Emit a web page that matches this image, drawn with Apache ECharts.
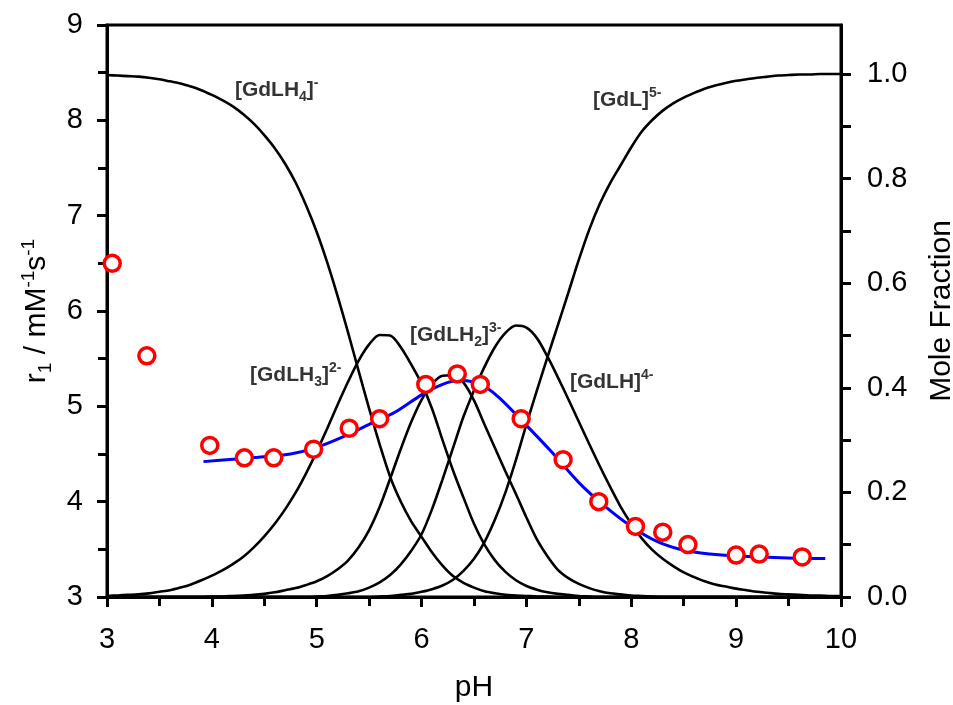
<!DOCTYPE html>
<html><head><meta charset="utf-8">
<script src="https://cdn.jsdelivr.net/npm/echarts@6/dist/echarts.min.js"></script>
<style>html,body{margin:0;padding:0;background:#fff}#c{width:953px;height:705px}</style>
</head><body><div id="c"></div>
<script>
const FONT = '"Liberation Sans", Arial, sans-serif';

// measured relaxivity points [pH, r1]
const r1Points = [[3.05,6.50],[3.38,5.53],[3.98,4.59],[4.31,4.46],[4.59,4.46],[4.97,4.55],[5.31,4.77],[5.60,4.87],[6.04,5.23],[6.34,5.34],[6.56,5.23],[6.95,4.87],[7.35,4.44],[7.69,4.00],[8.04,3.74],[8.30,3.68],[8.54,3.55],[9.00,3.44],[9.22,3.45],[9.63,3.42]];
// fitted relaxivity curve [pH, r1]
const r1Fit = [[3.92,4.42],[4.2,4.445],[4.5,4.47],[4.75,4.50],[5.0,4.57],[5.25,4.68],[5.5,4.81],[5.75,4.94],[6.0,5.12],[6.2,5.23],[6.35,5.27],[6.5,5.255],[6.6,5.21],[6.75,5.08],[7.0,4.80],[7.25,4.51],[7.5,4.20],[7.75,3.95],[8.0,3.74],[8.25,3.58],[8.5,3.49],[8.75,3.45],[9.0,3.43],[9.5,3.41],[9.85,3.405]];

// pH values at which the species curves were read (3.0 .. 10.0, step 0.1)
const pHGrid = [3.0,3.1,3.2,3.3,3.4,3.5,3.6,3.7,3.8,3.9,4.0,4.1,4.2,4.3,4.4,4.5,4.6,4.7,4.8,4.9,5.0,5.1,5.2,5.3,5.4,5.5,5.6,5.7,5.8,5.9,6.0,6.1,6.2,6.3,6.4,6.5,6.6,6.7,6.8,6.9,7.0,7.1,7.2,7.3,7.4,7.5,7.6,7.7,7.8,7.9,8.0,8.1,8.2,8.3,8.4,8.5,8.6,8.7,8.8,8.9,9.0,9.1,9.2,9.3,9.4,9.5,9.6,9.7,9.8,9.9,10.0];
// species mole fractions on pHGrid
const fracGdLH4 = [0.998,0.997,0.996,0.995,0.993,0.990,0.986,0.982,0.976,0.969,0.960,0.950,0.938,0.923,0.905,0.883,0.858,0.828,0.792,0.748,0.698,0.640,0.575,0.505,0.432,0.360,0.292,0.230,0.183,0.145,0.115,0.085,0.060,0.040,0.027,0.018,0.011,0.007,0.004,0.003,0.002,0.001,0.001,0,0,0,0,0,0,0,0,0,0,0,0,0,0,0,0,0,0,0,0,0,0,0,0,0,0,0,0];
const fracGdLH3 = [0.002,0.003,0.004,0.005,0.007,0.010,0.013,0.018,0.024,0.032,0.041,0.051,0.063,0.077,0.095,0.116,0.140,0.168,0.200,0.237,0.278,0.322,0.368,0.412,0.452,0.483,0.501,0.500,0.478,0.445,0.408,0.360,0.300,0.242,0.190,0.140,0.100,0.070,0.048,0.032,0.021,0.014,0.009,0.006,0.004,0.002,0.001,0,0,0,0,0,0,0,0,0,0,0,0,0,0,0,0,0,0,0,0,0,0,0,0];
const fracGdLH2 = [0,0,0,0,0,0,0,0,0,0,0.001,0.001,0.002,0.003,0.004,0.006,0.009,0.013,0.017,0.023,0.030,0.040,0.053,0.070,0.095,0.128,0.172,0.226,0.282,0.334,0.377,0.407,0.423,0.424,0.410,0.376,0.330,0.285,0.240,0.197,0.152,0.110,0.078,0.052,0.036,0.025,0.017,0.011,0.007,0.005,0.003,0.002,0.001,0,0,0,0,0,0,0,0,0,0,0,0,0,0,0,0,0,0];
const fracGdLH = [0,0,0,0,0,0,0,0,0,0,0,0,0,0,0,0,0,0,0,0,0.001,0.002,0.004,0.007,0.011,0.018,0.028,0.042,0.062,0.088,0.120,0.168,0.225,0.285,0.345,0.395,0.440,0.478,0.505,0.519,0.515,0.495,0.460,0.420,0.378,0.335,0.292,0.250,0.210,0.172,0.140,0.112,0.090,0.073,0.059,0.047,0.038,0.030,0.024,0.020,0.016,0.013,0.010,0.008,0.006,0.005,0.004,0.003,0.003,0.002,0.002];
const fracGdL = [0,0,0,0,0,0,0,0,0,0,0,0,0,0,0,0,0,0,0,0,0,0,0,0,0,0,0.001,0.002,0.004,0.006,0.010,0.015,0.022,0.033,0.050,0.073,0.105,0.148,0.200,0.262,0.330,0.395,0.458,0.520,0.582,0.645,0.703,0.752,0.792,0.826,0.860,0.890,0.912,0.930,0.944,0.955,0.964,0.972,0.978,0.983,0.987,0.990,0.993,0.995,0.997,0.998,0.999,0.999,1.0,1.0,1.0];

// species label texts and anchors [pH, fraction]
const speciesNames = ['{m|[GdLH}{sub|4}{m|]}{sup|-}','{m|[GdL]}{sup|5-}','{m|[GdLH}{sub|3}{m|]}{sup|2-}','{m|[GdLH}{sub|2}{m|]}{sup|3-}','{m|[GdLH]}{sup|4-}'];
const speciesAnchors = [[4.22,0.969],[7.635,0.950],[4.364,0.424],[5.89,0.501],[7.415,0.411]];

// axis ticks
const xMin = 3, xMax = 10;
const r1Min = 3, r1Max = 9;
const fracMax = 1.0937;
const fracLabelValues = [0,0.2,0.4,0.6,0.8,1.0];
const fracTickValues = [0,0.1,0.2,0.3,0.4,0.5,0.6,0.7,0.8,0.9,1.0];

const chart = echarts.init(document.getElementById('c'), null, {renderer:'canvas'});
const pairs = (arr) => pHGrid.map((x, i) => [x, arr[i]]);
const blackCurve = (arr) => ({type:'line', yAxisIndex:1, data:pairs(arr), showSymbol:false, smooth:0.3,
  lineStyle:{color:'#000', width:2.6}, silent:true, z:2});
const tickStyle = {color:'#000', width:3};
const labelRich = {
  m:{fontSize:21, fontWeight:'bold', fontFamily:FONT, color:'#000', lineHeight:28},
  sub:{fontSize:14, fontWeight:'bold', fontFamily:FONT, color:'#000', verticalAlign:'bottom', lineHeight:20},
  sup:{fontSize:14, fontWeight:'bold', fontFamily:FONT, color:'#000', verticalAlign:'top', lineHeight:20}
};
chart.setOption({
  animation:false,
  backgroundColor:'#fff',
  textStyle:{fontFamily:FONT},
  grid:{left:107, right:112, top:25, bottom:108, show:true, borderColor:'#000', borderWidth:3,
        backgroundColor:'transparent', containLabel:false, outerBoundsMode:'none'},
  xAxis:{type:'value', min:xMin, max:xMax, interval:1,
    name:'pH', nameLocation:'middle', nameGap:76, nameTextStyle:{fontSize:30, color:'#000', fontFamily:FONT},
    axisLine:{show:true, lineStyle:tickStyle}, axisTick:{show:true, length:10, lineStyle:tickStyle},
    minorTick:{show:true, splitNumber:2, length:9, lineStyle:tickStyle},
    axisLabel:{fontSize:29, color:'#000', margin:28, fontFamily:FONT}, splitLine:{show:false}},
  yAxis:[
    {type:'value', min:r1Min, max:r1Max, interval:1, position:'left',
     name:'r{s|1} / mM{p|-1}s{p|-1}', nameLocation:'middle', nameRotate:90, nameGap:52,
     nameTextStyle:{fontSize:30, color:'#000', fontFamily:FONT, lineHeight:36,
       rich:{s:{fontSize:19, verticalAlign:'bottom', lineHeight:30, fontFamily:FONT, color:'#000'},
             p:{fontSize:19, verticalAlign:'top', lineHeight:30, fontFamily:FONT, color:'#000'}}},
     axisLine:{show:true, lineStyle:tickStyle}, axisTick:{show:true, length:10, lineStyle:tickStyle},
     minorTick:{show:true, splitNumber:2, length:9, lineStyle:tickStyle},
     axisLabel:{fontSize:29, color:'#000', margin:24, fontFamily:FONT}, splitLine:{show:false}},
    {type:'value', min:0, max:fracMax, position:'right',
     name:'Mole Fraction', nameLocation:'middle', nameRotate:90, nameGap:86,
     nameTextStyle:{fontSize:30, color:'#000', fontFamily:FONT},
     axisLine:{show:true, lineStyle:tickStyle},
     axisTick:{show:true, length:10, lineStyle:tickStyle, customValues:fracTickValues},
     axisLabel:{fontSize:29, color:'#000', margin:26, fontFamily:FONT, customValues:fracLabelValues,
       formatter:(v)=>Number(v).toFixed(1)},
     splitLine:{show:false}}
  ],
  series:[
    blackCurve(fracGdLH4), blackCurve(fracGdLH3), blackCurve(fracGdLH2), blackCurve(fracGdLH), blackCurve(fracGdL),
    {type:'line', yAxisIndex:0, data:r1Fit, showSymbol:false, smooth:0.3,
     lineStyle:{color:'#0000ff', width:3}, silent:true, z:3},
    {type:'scatter', yAxisIndex:0, data:r1Points, symbol:'circle', symbolSize:16,
     itemStyle:{color:'#fff', borderColor:'#ff0000', borderWidth:3.5, opacity:1}, z:4},
    {type:'scatter', yAxisIndex:1, symbolSize:0, silent:true, z:5,
     data:speciesAnchors.map((p,i)=>({value:p, label:{show:true, position:'right', distance:0, color:'#000',
       formatter:speciesNames[i], rich:labelRich}}))}
  ]
});
</script></body></html>
